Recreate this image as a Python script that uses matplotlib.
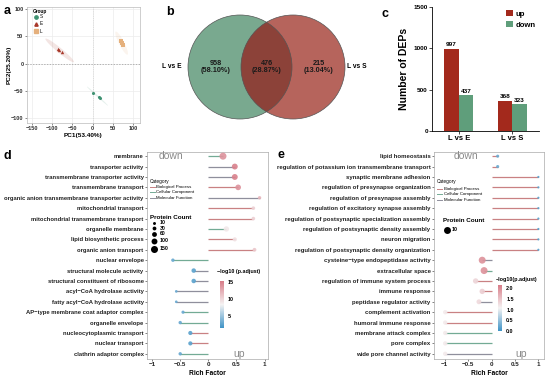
import matplotlib
matplotlib.use('Agg')
import matplotlib.pyplot as plt
import numpy as np
from matplotlib.patches import Circle, Ellipse
from matplotlib.lines import Line2D
from matplotlib.colors import LinearSegmentedColormap, Normalize
import matplotlib.cm as cm

plt.rcParams['font.family'] = ['Liberation Sans', 'DejaVu Sans']
plt.rcParams['axes.unicode_minus'] = True

# ---------------- data ----------------
# panel a (PCA)
pca_groups = ['S', 'E', 'L']
pc1_S = [2, 16, 18]
pc2_S = [-53, -62, -64]
pc1_E = [-86, -82, -76]
pc2_E = [27, 25, 21]
pc1_L = [69, 72, 74]
pc2_L = [41, 38, 34]
pc_xticks = [-150, -100, -50, 0, 50, 100]
pc_yticks = [-100, -50, 0, 50, 100]

# panel b (Venn)
venn_sets = ['L vs E', 'L vs S']
venn_only_left = 958
venn_both = 476
venn_only_right = 215

# panel c (bars)
dep_groups = ['L vs E', 'L vs S']
dep_up = [997, 368]
dep_down = [437, 323]
dep_yticks = [0, 500, 1000, 1500]

# panel d
d_terms = ['membrane', 'transporter activity', 'transmembrane transporter activity',
           'transmembrane transport', 'organic anion transmembrane transporter activity',
           'mitochondrial transport', 'mitochondrial transmembrane transport',
           'organelle membrane', 'lipid biosynthetic process', 'organic anion transport',
           'nuclear envelope', 'structural molecule activity',
           'structural constituent of ribosome', 'acyl\u2212CoA hydrolase activity',
           'fatty acyl\u2212CoA hydrolase activity', 'AP\u2212type membrane coat adaptor complex',
           'organelle envelope', 'nucleocytoplasmic transport', 'nuclear transport',
           'clathrin adaptor complex']
d_rich = [0.26, 0.47, 0.47, 0.53, 0.91, 0.80, 0.80, 0.32, 0.47, 0.82,
          -0.63, -0.26, -0.26, -0.57, -0.57, -0.45, -0.50, -0.32, -0.32, -0.50]
d_cat = ['CC', 'MF', 'MF', 'BP', 'MF', 'BP', 'BP', 'CC', 'BP', 'BP',
         'CC', 'MF', 'MF', 'MF', 'MF', 'CC', 'CC', 'BP', 'BP', 'CC']
d_count = [150, 100, 100, 90, 20, 25, 25, 80, 40, 30,
           20, 50, 50, 5, 5, 15, 20, 40, 40, 20]
d_padj = [14, 15, 15, 14, 12, 10.5, 10.5, 9, 9.5, 11,
          3, 2.5, 2.5, 3, 3, 3, 3, 2.5, 2.5, 3]
d_count_legend = [10, 30, 60, 100, 150]
d_cb_ticks = [5, 10, 15]

# panel e
e_terms = ['lipid homeostasis', 'regulation of potassium ion transmembrane transport',
           'synaptic membrane adhesion', 'regulation of presynapse organization',
           'regulation of presynapse assembly', 'regulation of excitatory synapse assembly',
           'regulation of postsynaptic specialization assembly',
           'regulation of postsynaptic density assembly', 'neuron migration',
           'regulation of postsynaptic density organization',
           'cysteine\u2212type endopeptidase activity', 'extracellular space',
           'regulation of immune system process', 'immune response',
           'peptidase regulator activity', 'complement activation',
           'humoral immune response', 'membrane attack complex', 'pore complex',
           'wide pore channel activity']
e_rich = [0.13, 0.13, 1.0, 1.0, 1.0, 1.0, 1.0, 1.0, 1.0, 1.0,
          -0.20, -0.16, -0.34, -0.20, -0.27, -0.99, -0.99, -0.99, -0.99, -0.99]
e_cat = ['BP', 'BP', 'BP', 'BP', 'BP', 'BP', 'BP', 'BP', 'BP', 'BP',
         'MF', 'CC', 'BP', 'BP', 'MF', 'BP', 'BP', 'CC', 'CC', 'MF']
e_count = [2, 2, 1, 1, 1, 1, 1, 1, 1, 1,
           10, 10, 6, 6, 5, 4, 4, 4, 4, 4]
e_padj = [0.25, 0.25, 0.15, 0.15, 0.15, 0.15, 0.15, 0.15, 0.15, 0.15,
          1.95, 1.95, 1.35, 1.4, 1.3, 1.15, 1.15, 1.15, 1.15, 1.15]
e_count_legend = [10]
e_cb_ticks = [0.0, 0.5, 1.0, 1.5, 2.0]

rich_ticks = [-1, -0.5, 0, 0.5, 1]
cat_names = ['Biological Process', 'Cellular Component', 'Molecular Function']
cat_keys = ['BP', 'CC', 'MF']

# ---------------- figure helpers ----------------
W, H = 550, 383
fig = plt.figure(figsize=(W / 100, H / 100), dpi=100)


def px_axes(l, t, r, b, **kw):
    return fig.add_axes([l / W, 1 - b / H, (r - l) / W, (b - t) / H], **kw)


def ftext(x, y, s, **kw):
    return fig.text(x / W, 1 - y / H, s, **kw)


def fline(x0, x1, y, **kw):
    fig.add_artist(Line2D([x0 / W, x1 / W], [1 - y / H, 1 - y / H],
                          transform=fig.transFigure, **kw))


def fdot(x, y, s, **kw):
    fig.add_artist(Line2D([x / W], [1 - y / H], marker='o', markersize=np.sqrt(s),
                          linestyle='none', transform=fig.transFigure, **kw))


BOLD = dict(fontweight='bold')

# ---------------- panel a ----------------
col_S, col_E, col_L = '#3f9272', '#a8382a', '#e5b07c'
axA = px_axes(27, 7, 140, 123)
axA.set_xlim(-162, 117)
axA.set_ylim(-109, 104)
axA.set_xticks(pc_xticks)
axA.set_yticks(pc_yticks)
axA.grid(True, color='#ececec', lw=0.5)
axA.set_axisbelow(True)
axA.axhline(0, color='#999999', lw=0.5, ls=(0, (2, 2)), zorder=1)
axA.axvline(0, color='#cccccc', lw=0.4, ls=(0, (2, 2)), zorder=1)
for sp in axA.spines.values():
    sp.set_color('#bbbbbb')
    sp.set_linewidth(0.5)
axA.tick_params(labelsize=4, length=1.5, width=0.4, pad=1, colors='#333333')
for lab in axA.get_xticklabels() + axA.get_yticklabels():
    lab.set_fontweight('bold')


def add_ellipse(ax, xs, ys, color, k=6.0, min_minor=3.0):
    pts = np.column_stack([xs, ys]).astype(float)
    c = pts.mean(axis=0)
    cov = np.cov(pts.T)
    vals, vecs = np.linalg.eigh(cov)
    order = vals.argsort()[::-1]
    vals, vecs = vals[order], vecs[:, order]
    ang = np.degrees(np.arctan2(vecs[1, 0], vecs[0, 0]))
    a = k * np.sqrt(max(vals[0], 0))
    b = max(k * np.sqrt(max(vals[1], 0)), min_minor)
    ax.add_patch(Ellipse(c, 2 * a, 2 * b, angle=ang, fc=color, alpha=0.13,
                         ec='none', zorder=2))


add_ellipse(axA, pc1_S, pc2_S, col_S, k=3.0, min_minor=1.5)
add_ellipse(axA, pc1_E, pc2_E, col_E, k=7.0, min_minor=5)
add_ellipse(axA, pc1_L, pc2_L, col_L, k=6.0, min_minor=6)
axA.scatter(pc1_S, pc2_S, s=5, marker='o', color=col_S, zorder=3, lw=0)
axA.scatter(pc1_E, pc2_E, s=6, marker='^', color=col_E, zorder=3, lw=0)
axA.scatter(pc1_L, pc2_L, s=5, marker='s', color=col_L, zorder=3, lw=0)
ftext(83, 136, 'PC1(53.40%)', fontsize=4.6, ha='center', va='center', **BOLD)
ftext(9, 65, 'PC2(25.20%)', fontsize=4.6, ha='center', va='center', rotation=90, **BOLD)
# legend
ftext(33, 12, 'Group', fontsize=3.4, va='center', **BOLD)
for i, (g, c, m) in enumerate(zip(pca_groups, [col_S, col_E, col_L], ['o', '^', 's'])):
    y = 16.5 + i * 7.3
    fig.add_artist(Line2D([36 / W], [1 - y / H], marker=m, markersize=2.4, color=c,
                          linestyle='none', transform=fig.transFigure))
    ftext(39.5, y, g, fontsize=3.4, va='center')

# ---------------- panel b ----------------
axB = px_axes(160, 3, 378, 130)
axB.set_xlim(160, 378)
axB.set_ylim(130, 3)
axB.axis('off')
cL = (240, 67)
cR = (293, 67)
r = 52
left = Circle(cL, r, fc='#79a98f', ec='none')
right = Circle(cR, r, fc='#b6645c', ec='none')
axB.add_patch(left)
axB.add_patch(right)
inter = Circle(cR, r, fc='#8c4239', ec='none')
axB.add_patch(inter)
inter.set_clip_path(left)
axB.add_patch(Circle(cL, r, fc='none', ec='#555555', lw=0.5))
axB.add_patch(Circle(cR, r, fc='none', ec='#555555', lw=0.5))
venn_total = venn_only_left + venn_both + venn_only_right
for val, xc in zip([venn_only_left, venn_both, venn_only_right], [215.5, 266.5, 318.5]):
    axB.text(xc, 67, f'{val}\n({val / venn_total * 100:.2f}%)', fontsize=5.2,
             ha='center', va='center', linespacing=1.0, color='#1a1a1a', **BOLD)
ftext(172, 66, venn_sets[0], fontsize=4.8, ha='center', va='center', **BOLD)
ftext(357, 66, venn_sets[1], fontsize=4.8, ha='center', va='center', **BOLD)

# ---------------- panel c ----------------
axC = px_axes(432, 7, 539, 131)
xg = np.arange(len(dep_groups))
bw = 0.27
b1 = axC.bar(xg - bw / 2, dep_up, bw, color='#a3291c', label='up')
b2 = axC.bar(xg + bw / 2, dep_down, bw, color='#5f9e7b', label='down')
for bars, vals in ((b1, dep_up), (b2, dep_down)):
    for b, v in zip(bars, vals):
        axC.text(b.get_x() + b.get_width() / 2, v + 15, str(v), ha='center',
                 va='bottom', fontsize=4.6, **BOLD)
axC.set_xlim(-0.5, 1.5)
axC.set_ylim(0, 1500)
axC.set_yticks(dep_yticks)
axC.set_xticks(xg)
axC.set_xticklabels(dep_groups, fontsize=5.5, **BOLD)
axC.tick_params(axis='y', labelsize=4.6, length=2, width=0.5, pad=1)
axC.tick_params(axis='x', length=2, width=0.5, pad=1)
for lab in axC.get_yticklabels():
    lab.set_fontweight('bold')
axC.spines['top'].set_visible(False)
axC.spines['right'].set_visible(False)
for sp in ('left', 'bottom'):
    axC.spines[sp].set_linewidth(0.6)
axC.set_ylabel('Number of DEPs', fontsize=7.5, labelpad=3, **BOLD)
axC.legend(loc='upper right', bbox_to_anchor=(1.02, 1.02), frameon=False,
           prop=dict(size=5.6, weight='bold'), handlelength=0.9, handleheight=0.9,
           handletextpad=0.3, labelspacing=0.35, borderpad=0.2)

# ---------------- panels d/e ----------------
cat_color = {'BP': '#c98183', 'CC': '#73ab95', 'MF': '#8f8f9c'}
cmap = LinearSegmentedColormap.from_list('bwr2', ['#3f93c6', '#f5f3f3', '#d87c88'])


def lollipop(box, terms, rich, cats, counts, padj, norm, sizef, xlim, fs):
    ax = px_axes(*box)
    y = np.arange(len(terms))
    for yi, xv, c in zip(y, rich, cats):
        ax.plot([0, xv], [yi, yi], color=cat_color[c], lw=0.9, zorder=2,
                solid_capstyle='butt')
    ax.scatter(rich, y, s=[sizef(c) for c in counts], c=padj, cmap=cmap, norm=norm,
               alpha=0.9, lw=0, zorder=3)
    ax.set_yticks(y)
    ax.set_yticklabels(terms, fontsize=fs, **BOLD)
    ax.set_ylim(len(terms) - 0.5, -0.4)
    ax.set_xlim(*xlim)
    ax.set_xticks(rich_ticks)
    ax.set_xticklabels(['\u22121', '\u22120.5', '0', '0.5', '1'], fontsize=4.5, **BOLD)
    ax.tick_params(length=1.5, width=0.4, pad=1, colors='#222222')
    for sp in ax.spines.values():
        sp.set_color('#aaaaaa')
        sp.set_linewidth(0.5)
    ax.set_xlabel('Rich Factor', fontsize=4.8, labelpad=1.5, **BOLD)
    return ax


size_d = lambda c: 3 + 0.15 * c
size_e = lambda c: 2.5 * c
norm_d = Normalize(1.5, 15.3)
norm_e = Normalize(0.0, 2.14)

axD = lollipop((147, 152, 268, 359), d_terms, d_rich, d_cat, d_count, d_padj,
               norm_d, size_d, (-1.09, 1.06), 4.25)
axE = lollipop((434, 152, 544, 359), e_terms, e_rich, e_cat, e_count, e_padj,
               norm_e, size_e, (-1.23, 1.12), 4.3)

# up / down labels
ftext(171, 156, 'down', fontsize=7.5, color='#8a8a8a', ha='center', va='center')
ftext(239, 354, 'up', fontsize=7.5, color='#8a8a8a', ha='center', va='center')
ftext(466, 156, 'down', fontsize=7.5, color='#8a8a8a', ha='center', va='center')
ftext(521, 354, 'up', fontsize=7.5, color='#8a8a8a', ha='center', va='center')


def category_legend(x, y0, ys):
    ftext(x, y0, 'Category', fontsize=3.4, va='center')
    for yy, key, name in zip(ys, cat_keys, cat_names):
        fline(x, x + 4.5, yy, color=cat_color[key], lw=0.7)
        ftext(x + 6.5, yy, name, fontsize=3.2, va='center')


category_legend(150, 181, [186.5, 192.3, 198.3])
ftext(150, 217, 'Protein Count', fontsize=4.5, va='center', **BOLD)
for i, c in enumerate(d_count_legend):
    yy = [223, 228, 233.5, 240.5, 248.5][i]
    fdot(153.5, yy, size_d(c), color='black', markeredgewidth=0)
    ftext(159.5, yy, str(c), fontsize=3.7, va='center', **BOLD)

category_legend(437, 182, [188.5, 194.3, 200.3])
ftext(443, 221, 'Protein Count', fontsize=4.5, va='center', **BOLD)
for c in e_count_legend:
    fdot(447, 229.5, size_e(c), color='black', markeredgewidth=0)
    ftext(452, 229.5, str(c), fontsize=3.9, va='center', **BOLD)


def colorbar(box, norm, ticks, fmt, title, tx, ty):
    cax = px_axes(*box)
    cb = fig.colorbar(cm.ScalarMappable(norm=norm, cmap=cmap), cax=cax)
    cb.outline.set_visible(False)
    cb.set_ticks(ticks)
    cb.set_ticklabels([fmt(t) for t in ticks])
    cax.tick_params(length=1.2, width=0.4, color='white', pad=1.5, labelsize=3.9)
    for lab in cax.get_yticklabels():
        lab.set_fontweight('bold')
    ftext(tx, ty, title, fontsize=3.9, va='center', **BOLD)


colorbar((220, 281, 224, 328), norm_d, d_cb_ticks, lambda t: f'{t:g}',
         '\u2212log10 (p.adjust)', 217, 272)
colorbar((498, 285, 502.5, 331), norm_e, e_cb_ticks, lambda t: f'{t:.1f}',
         '\u2212log10(p.adjust)', 496, 279)

# panel letters
ftext(4, 11, 'a', fontsize=9, va='center', **BOLD)
ftext(166, 12, 'b', fontsize=9, va='center', **BOLD)
ftext(382, 14, 'c', fontsize=9, va='center', **BOLD)
ftext(4, 156, 'd', fontsize=9, va='center', **BOLD)
ftext(277, 155, 'e', fontsize=9, va='center', **BOLD)

fig.savefig('out.png', dpi=100)
